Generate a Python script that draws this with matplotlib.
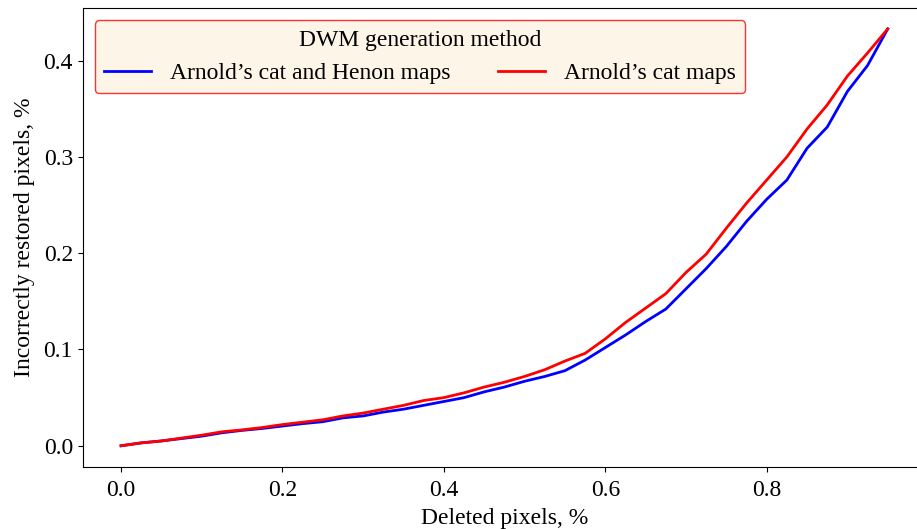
import matplotlib

matplotlib.use("Agg")
import matplotlib.pyplot as plt

plt.rcParams["font.family"] = ["Liberation Serif", "DejaVu Serif"]
plt.rcParams["font.size"] = 17

# share of deleted pixels
deleted = [0.0, 0.025, 0.05, 0.075, 0.1, 0.125, 0.15, 0.175, 0.2, 0.225,
           0.25, 0.275, 0.3, 0.325, 0.35, 0.375, 0.4, 0.425, 0.45, 0.475,
           0.5, 0.525, 0.55, 0.575, 0.6, 0.625, 0.65, 0.675, 0.7, 0.725,
           0.75, 0.775, 0.8, 0.825, 0.85, 0.875, 0.9, 0.925, 0.95]

# incorrectly restored pixels, Arnold's cat + Henon maps
cat_henon = [0.0, 0.003, 0.005, 0.0075, 0.010, 0.0135, 0.016, 0.018, 0.0205, 0.023,
             0.025, 0.029, 0.031, 0.035, 0.038, 0.042, 0.046, 0.050, 0.056, 0.061,
             0.067, 0.072, 0.078, 0.089, 0.102, 0.115, 0.129, 0.142, 0.163, 0.184,
             0.207, 0.233, 0.256, 0.276, 0.309, 0.331, 0.368, 0.395, 0.433]

# incorrectly restored pixels, Arnold's cat maps only
cat_only = [0.0, 0.003, 0.005, 0.008, 0.011, 0.0145, 0.0165, 0.019, 0.022, 0.0245,
            0.027, 0.031, 0.034, 0.038, 0.042, 0.047, 0.050, 0.055, 0.061, 0.066,
            0.072, 0.079, 0.088, 0.096, 0.111, 0.128, 0.143, 0.158, 0.180, 0.199,
            0.226, 0.252, 0.276, 0.300, 0.329, 0.354, 0.384, 0.408, 0.433]

fig = plt.figure(figsize=(9.17, 5.29), dpi=100)
ax = fig.add_axes([0.0902, 0.118, 0.9197, 0.866])

ax.plot(deleted, cat_henon, color="blue", linewidth=2, label="Arnold’s cat and Henon maps")
ax.plot(deleted, cat_only, color="red", linewidth=2, label="Arnold’s cat maps")

ax.set_xlim(-0.0475, 0.9975)
ax.set_ylim(-0.0216, 0.4542)
ax.set_xticks([0.0, 0.2, 0.4, 0.6, 0.8])
ax.set_yticks([0.0, 0.1, 0.2, 0.3, 0.4])
ax.tick_params(axis="x", pad=6)
ax.set_xlabel("Deleted pixels, %", labelpad=5)
ax.set_ylabel("Incorrectly restored pixels, %", labelpad=6)

ax.legend(loc="upper left", ncol=2, title="DWM generation method",
          title_fontsize=17, facecolor="#fdf3e3", edgecolor="red", fancybox=True)

fig.savefig("out.png", dpi=100)
